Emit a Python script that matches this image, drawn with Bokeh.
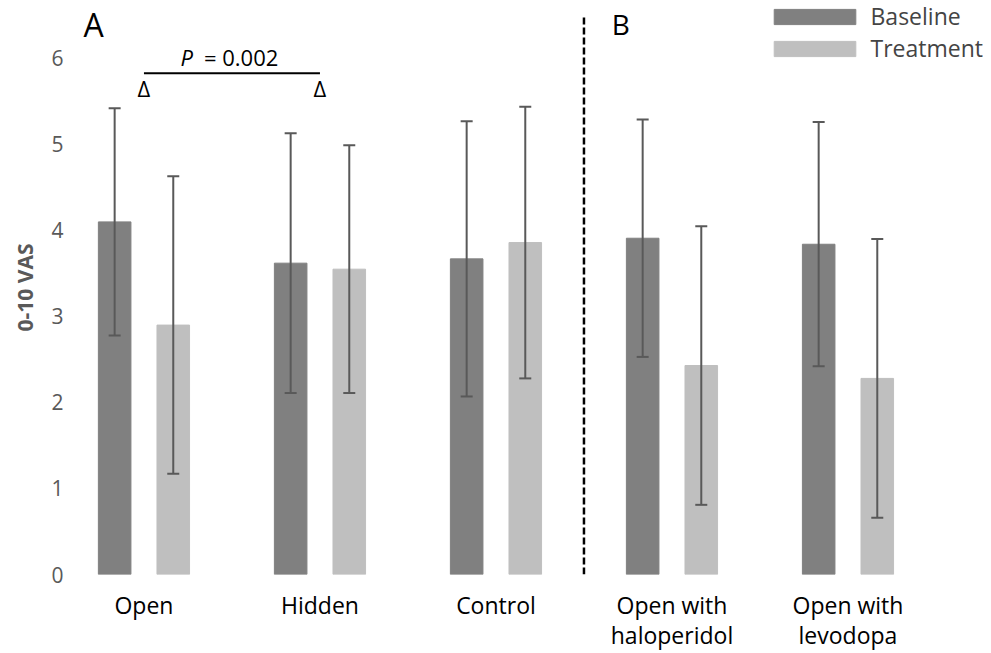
from bokeh.plotting import figure
from bokeh.models import (ColumnDataSource, Range1d, FixedTicker, Whisker, TeeHead,
                          Legend, LegendItem)
from bokeh.transform import dodge
from bokeh.core.properties import value
from bokeh.embed import file_html
from bokeh.resources import INLINE

# ---- data ----
categories = ["Open", "Hidden", "Control", "Open with\nhaloperidol", "Open with\nlevodopa"]
baseline = [4.10, 3.62, 3.67, 3.91, 3.84]
baseline_err = [1.32, 1.51, 1.60, 1.38, 1.42]
treatment = [2.90, 3.55, 3.86, 2.43, 2.28]
treatment_err = [1.73, 1.44, 1.58, 1.62, 1.62]
y_ticks = [0, 1, 2, 3, 4, 5, 6]
series_names = ["Baseline", "Treatment"]
p_label = "= 0.002"

# ---- styles / layout ----
DARK = "#808080"
LIGHT = "#bfbfbf"
ERR = "#595959"
FONT = "Open Sans"
OFF = 0.1665
BAR_W = 0.185

xs = list(range(len(categories)))
src = ColumnDataSource(dict(
    x=xs,
    baseline=baseline,
    treatment=treatment,
    b_lo=[m - e for m, e in zip(baseline, baseline_err)],
    b_hi=[m + e for m, e in zip(baseline, baseline_err)],
    t_lo=[m - e for m, e in zip(treatment, treatment_err)],
    t_hi=[m + e for m, e in zip(treatment, treatment_err)],
))

p = figure(width=991, height=653, x_range=Range1d(-0.406, 4.770), y_range=Range1d(0, 6.674),
           output_backend="svg", toolbar_location=None,
           min_border_left=72, min_border_right=8, min_border_top=0, min_border_bottom=77)
p.outline_line_color = None
p.grid.visible = False
p.background_fill_color = "white"

# axes
p.xaxis.ticker = FixedTicker(ticks=xs)
p.xaxis.major_label_overrides = {i: c for i, c in zip(xs, categories)}
p.xaxis.axis_line_color = None
p.xaxis.major_tick_line_color = None
p.xaxis.major_tick_out = 0
p.xaxis.minor_tick_line_color = None
p.xaxis.major_label_text_font = FONT
p.xaxis.major_label_text_font_size = "23px"
p.xaxis.major_label_text_color = "black"
p.xaxis.major_label_standoff = 14
p.xaxis.major_label_text_line_height = 0.95

p.yaxis.ticker = FixedTicker(ticks=y_ticks)
p.yaxis.axis_line_color = None
p.yaxis.major_tick_line_color = None
p.yaxis.major_tick_out = 0
p.yaxis.minor_tick_line_color = None
p.yaxis.major_label_text_font = FONT
p.yaxis.major_label_text_font_size = "21px"
p.yaxis.major_label_text_color = "#595959"
p.yaxis.major_label_standoff = 9
p.yaxis.axis_label = "0-10 VAS"
p.yaxis.axis_label_text_font = FONT
p.yaxis.axis_label_text_font_style = "bold"
p.yaxis.axis_label_text_font_size = "21px"
p.yaxis.axis_label_text_color = "#595959"
p.yaxis.axis_label_standoff = 9

# bars
rb = p.vbar(x=dodge("x", -OFF), top="baseline", width=BAR_W, color=DARK, source=src)
rt = p.vbar(x=dodge("x", OFF), top="treatment", width=BAR_W, color=LIGHT, source=src)

# error bars
for off, lo, hi in [(-OFF, "b_lo", "b_hi"), (OFF, "t_lo", "t_hi")]:
    w = Whisker(base=dodge("x", off), lower=lo, upper=hi, source=src,
                line_color=ERR, line_width=2, level="annotation",
                upper_head=TeeHead(size=12, line_color=ERR, line_width=2),
                lower_head=TeeHead(size=12, line_color=ERR, line_width=2))
    p.add_layout(w)

# divider between panels
p.segment(x0=[2.5], y0=[0], x1=[2.5], y1=[6.5], line_color="black",
          line_width=2.5, line_dash="7 3")

# panel letters
p.text(x=[-0.343], y=[6.40], text=["A"], text_font=value(FONT), text_font_size="32px",
       text_align="left", text_baseline="alphabetic", text_color="black")
p.text(x=[2.658], y=[6.40], text=["B"], text_font=value(FONT), text_font_size="28px",
       text_align="left", text_baseline="alphabetic", text_color="black")

# significance bracket
p.segment(x0=[0], y0=[5.828], x1=[1], y1=[5.828], line_color="black", line_width=2)
p.text(x=[0, 1], y=[5.66, 5.66], text=["Δ", "Δ"], text_font=value(FONT),
       text_font_size="22px", text_align="center", text_baseline="alphabetic",
       text_color="black")
p.text(x=[0.5], y=[6.02], text=["P"], text_font=value(FONT), text_font_size="22px",
       text_font_style="italic", text_align="right", text_baseline="alphabetic",
       x_offset=-39, text_color="black")
p.text(x=[0.5], y=[6.02], text=[p_label], text_font=value(FONT), text_font_size="22px",
       text_align="left", text_baseline="alphabetic", x_offset=-28, text_color="black")

# legend (bar swatches are drawn at 80% of the glyph box)
legend = Legend(items=[LegendItem(label=series_names[0], renderers=[rb]),
                       LegendItem(label=series_names[1], renderers=[rt])],
                location="top_right", glyph_width=102, glyph_height=19, label_standoff=5,
                label_text_font=FONT, label_text_font_size="23px", label_height=14,
                label_text_line_height=0.9,
                padding=0, margin=0, spacing=0, border_line_color=None,
                background_fill_alpha=0)
p.add_layout(legend)

open("out.html", "w").write(file_html(p, INLINE))
